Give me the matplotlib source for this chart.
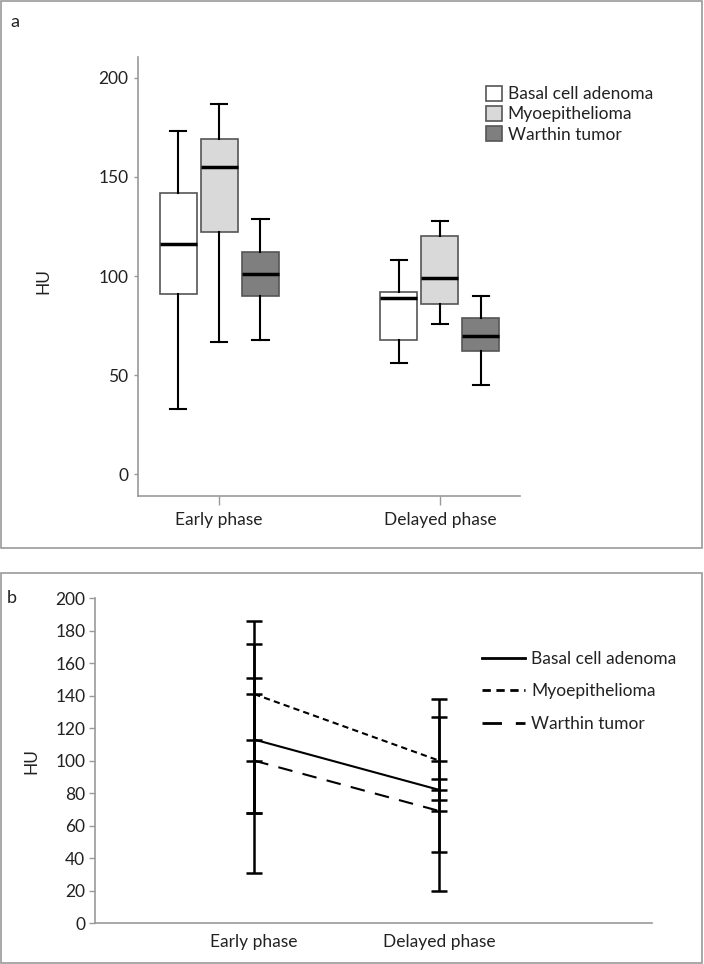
import matplotlib
matplotlib.use("Agg")
import matplotlib.pyplot as plt
import matplotlib.patches as mpatches
from matplotlib.lines import Line2D

plt.rcParams["font.family"] = ["Lato", "DejaVu Sans"]
plt.rcParams["font.size"] = 12.5
plt.rcParams["text.color"] = "#222222"
plt.rcParams["axes.labelcolor"] = "#222222"
plt.rcParams["xtick.color"] = "#999999"
plt.rcParams["ytick.color"] = "#999999"
plt.rcParams["xtick.labelcolor"] = "#222222"
plt.rcParams["ytick.labelcolor"] = "#222222"

# data
phases = ["Early phase", "Delayed phase"]
groups = ["Basal cell adenoma", "Myoepithelioma", "Warthin tumor"]
box_colors = ["#ffffff", "#d9d9d9", "#7f7f7f"]

# panel a: box plot stats, [early, delayed] per group
whislo = {"Basal cell adenoma": [33, 56], "Myoepithelioma": [67, 76], "Warthin tumor": [68, 45]}
q1 = {"Basal cell adenoma": [91, 68], "Myoepithelioma": [122, 86], "Warthin tumor": [90, 62]}
med = {"Basal cell adenoma": [116, 89], "Myoepithelioma": [155, 99], "Warthin tumor": [101, 70]}
q3 = {"Basal cell adenoma": [142, 92], "Myoepithelioma": [169, 120], "Warthin tumor": [112, 79]}
whishi = {"Basal cell adenoma": [173, 108], "Myoepithelioma": [187, 128], "Warthin tumor": [129, 90]}

# panel b: mean with lower / upper bar ends
mean_hu = {"Basal cell adenoma": [113, 82], "Myoepithelioma": [141, 100], "Warthin tumor": [100, 69]}
low_hu = {"Basal cell adenoma": [30.5, 20], "Myoepithelioma": [68, 75.5], "Warthin tumor": [68, 44]}
high_hu = {"Basal cell adenoma": [172, 138], "Myoepithelioma": [186, 127], "Warthin tumor": [151, 89]}
line_styles = ["-", (0, (3, 2)), (0, (7, 5))]

W, H = 704, 964
fig = plt.figure(figsize=(W / 100, H / 100), dpi=100)

def fx(px):
    return px / W

def fy(py):
    return 1 - py / H

# panel frames
for top, bot in [(1, 548), (573, 963)]:
    fig.patches.append(mpatches.Rectangle((fx(1), fy(bot)), fx(702) - fx(1), fy(top) - fy(bot),
                                          transform=fig.transFigure, fill=False,
                                          edgecolor="#9a9a9a", linewidth=1.2))
fig.text(fx(10), fy(22), "a", fontsize=13, va="center", ha="left")
fig.text(fx(7), fy(598), "b", fontsize=13, va="center", ha="left")

# ---- panel a ----
axa = fig.add_axes([fx(138), fy(496), fx(520) - fx(138), fy(56.7) - fy(496)])
offsets = [-0.186, 0, 0.186]
for g, name in enumerate(groups):
    stats = []
    for p in range(2):
        stats.append(dict(whislo=whislo[name][p], q1=q1[name][p], med=med[name][p],
                          q3=q3[name][p], whishi=whishi[name][p], fliers=[]))
    axa.bxp(stats, positions=[p + offsets[g] for p in range(2)], widths=0.168,
            capwidths=0.075, patch_artist=True, showfliers=False,
            boxprops=dict(facecolor=box_colors[g], edgecolor="#555555", linewidth=1.2),
            medianprops=dict(color="black", linewidth=2.5),
            whiskerprops=dict(color="black", linewidth=1.5),
            capprops=dict(color="black", linewidth=1.5), manage_ticks=False)
axa.set_xlim(-0.368, 1.363)
axa.set_ylim(-10.9, 210.6)
axa.set_yticks([0, 50, 100, 150, 200])
axa.set_xticks([0, 1])
axa.set_xticklabels(phases)
axa.tick_params(axis="y", length=3, width=1, pad=4)
axa.tick_params(axis="x", length=6.5, width=1, pad=5)
for s in ["top", "right"]:
    axa.spines[s].set_visible(False)
for s in ["left", "bottom"]:
    axa.spines[s].set_color("#9a9a9a")
    axa.spines[s].set_linewidth(1.2)
axa.set_ylabel("HU")
axa.yaxis.set_label_coords(-0.228, 0.49)
handles_a = [mpatches.Patch(facecolor=c, edgecolor="#555555", linewidth=1.2) for c in box_colors]
fig.legend(handles_a, groups, loc="upper left", bbox_to_anchor=(fx(477), fy(77)),
           frameon=False, borderpad=0, handlelength=0.92, handleheight=0.95,
           handletextpad=0.35, labelspacing=0.22, fontsize=12.5)

# ---- panel b ----
axb = fig.add_axes([fx(95), fy(923), fx(652) - fx(95), fy(598.3) - fy(923)])
xpos = [0, 1]
for g, name in enumerate(groups):
    m = mean_hu[name]
    lo = [m[i] - low_hu[name][i] for i in range(2)]
    hi = [high_hu[name][i] - m[i] for i in range(2)]
    axb.errorbar(xpos, m, yerr=[lo, hi], fmt="none", ecolor="black", elinewidth=1.8,
                 capsize=6, capthick=1.8)
    axb.plot(xpos, m, color="black", linewidth=1.5, linestyle=line_styles[g],
             marker="_", markersize=12, markeredgewidth=1.8, label=name)
axb.set_xlim(-0.861, 2.151)
axb.set_ylim(0, 200)
axb.set_yticks(range(0, 201, 20))
axb.set_xticks([0, 1])
axb.set_xticklabels(phases)
axb.tick_params(axis="y", length=4, width=1, pad=3)
axb.tick_params(axis="x", length=0, pad=8)
for s in ["top", "right"]:
    axb.spines[s].set_visible(False)
for s in ["left", "bottom"]:
    axb.spines[s].set_color("#9a9a9a")
    axb.spines[s].set_linewidth(1.2)
axb.set_ylabel("HU")
axb.yaxis.set_label_coords(-0.099, 0.5)
handles_b = [Line2D([0], [0], color="black", linewidth=2, linestyle=ls) for ls in line_styles]
fig.legend(handles_b, groups, loc="upper left", bbox_to_anchor=(fx(473), fy(642)),
           frameon=False, borderpad=0, handlelength=2.5, handletextpad=0.35,
           labelspacing=0.95, fontsize=12.5)

fig.savefig("out.png", dpi=100)
